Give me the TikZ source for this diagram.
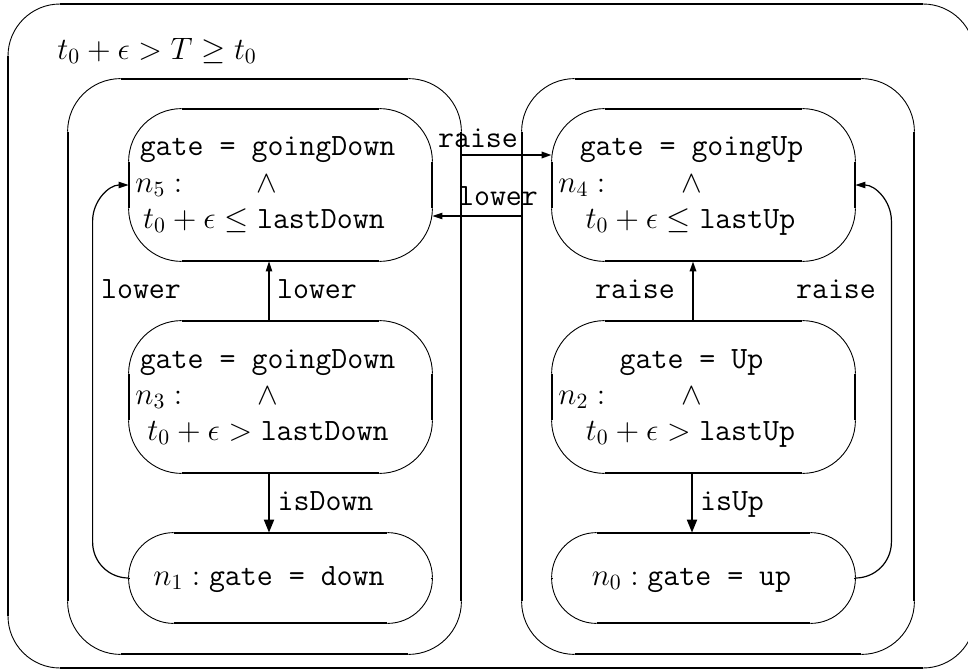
\RequirePackage{fix-cm}
\documentclass[tikz,border=0pt]{standalone}
\usetikzlibrary{arrows.meta,calc}

% One unit is one half point; y grows downwards.
\tikzset{
  statebox/.style={rectangle, inner sep=0pt, minimum width=151.5pt, minimum height=76pt},
  lowbox/.style={statebox, minimum height=45pt},
  groupbox/.style={rectangle, inner sep=0pt, minimum height=287.5pt},
  edgethick/.style={line width=1pt},
  edgethin/.style={line width=0.45pt},
  lbl/.style={inner sep=0pt, anchor=base, font=\fontsize{15.5pt}{18.5pt}\selectfont},
  smalltip/.style={-{Triangle[length=5pt,width=3.2pt]}},
  bigtip/.style={-{Triangle[length=6.5pt,width=5pt]}},
  heavyline/.style={line width=1pt},
  lightline/.style={line width=0.6pt},
}

% Rounded frame between two corners: thick straight sides, thin corner arcs.
\newcommand\drawframe[4][edgethick]{%
  \draw[#1] let \p1=(#2), \p2=(#3) in
    (\x1+#4,\y1) -- (\x2-#4,\y1)
    (\x1+#4,\y2) -- (\x2-#4,\y2)
    (\x1,\y1-#4) -- (\x1,\y2+#4)
    (\x2,\y1-#4) -- (\x2,\y2+#4);
  \draw[edgethin] let \p1=(#2), \p2=(#3) in
    (\x2-#4,\y1) arc[start angle=90,end angle=0,radius=#4]
    (\x2,\y2+#4) arc[start angle=0,end angle=-90,radius=#4]
    (\x1+#4,\y2) arc[start angle=270,end angle=180,radius=#4]
    (\x1,\y1-#4) arc[start angle=180,end angle=90,radius=#4];
}

\begin{document}
\begin{tikzpicture}[x=0.5pt,y=-0.5pt]
\useasboundingbox (0,0) rectangle (968,669);

% regions
\coordinate (outerNW) at (8,4);
\coordinate (outerSE) at (975,668);
\node[groupbox, minimum width=196.5pt] (downgrp) at (264.5,366.5) {};
\node[groupbox, minimum width=196pt] (upgrp) at (718,366.5) {};

% states
\node[statebox] (n5) at (280.5,185) {};
\node[statebox] (n3) at (280.5,397) {};
\node[lowbox]   (n1) at (280.5,578) {};
\node[statebox] (n4) at (703.5,185) {};
\node[statebox] (n2) at (703.5,397) {};
\node[lowbox]   (n0) at (703.5,578) {};

\drawframe[line width=0.8pt]{outerNW}{outerSE}{26pt}
\drawframe{downgrp.north west}{downgrp.south east}{26.5pt}
\drawframe{upgrp.north west}{upgrp.south east}{26.5pt}
\drawframe{n5.north west}{n5.south east}{26.5pt}
\drawframe{n3.north west}{n3.south east}{26.5pt}
\drawframe{n1.north west}{n1.south east}{22.5pt}
\drawframe{n4.north west}{n4.south east}{26.5pt}
\drawframe{n2.north west}{n2.south east}{26.5pt}
\drawframe{n0.north west}{n0.south east}{22.5pt}

% region label
\node[lbl, anchor=base west] (inv) at (57,59) {$t_0+\epsilon>T\geq t_0$};

% state texts
\node[lbl] (n5a) at (267.5,155) {\texttt{gate = goingDown}};
\node[lbl, anchor=base west] (n5id) at (135,192) {$n_5:$};
\node[lbl] (n5b) at (266.5,192) {$\wedge$};
\node[lbl] (n5c) at (264,228) {$t_0+\epsilon\leq\texttt{lastDown}$};

\node[lbl] (n3a) at (267.5,368) {\texttt{gate = goingDown}};
\node[lbl, anchor=base west] (n3id) at (135,404) {$n_3:$};
\node[lbl] (n3b) at (267.5,404) {$\wedge$};
\node[lbl] (n3c) at (268,440) {$t_0+\epsilon>\texttt{lastDown}$};

\node[lbl] (n1a) at (269,585) {$n_1:\texttt{gate = down}$};

\node[lbl] (n4a) at (691.5,155) {\texttt{gate = goingUp}};
\node[lbl, anchor=base west] (n4id) at (558,192) {$n_4:$};
\node[lbl] (n4b) at (691.5,192) {$\wedge$};
\node[lbl] (n4c) at (690.5,228) {$t_0+\epsilon\leq\texttt{lastUp}$};

\node[lbl] (n2a) at (691.5,368) {\texttt{gate = Up}};
\node[lbl, anchor=base west] (n2id) at (558,404) {$n_2:$};
\node[lbl] (n2b) at (691.5,404) {$\wedge$};
\node[lbl] (n2c) at (690.5,440) {$t_0+\epsilon>\texttt{lastUp}$};

\node[lbl] (n0a) at (691.5,585) {$n_0:\texttt{gate = up}$};

% transitions inside the lowering region
\draw[lightline, smalltip] ([xshift=-5.75pt]n3.north) -- ([xshift=-5.75pt]n5.south);
\draw[heavyline, bigtip] ([xshift=-5.75pt]n3.south) -- ([xshift=-5.75pt]n1.north);
\draw[lightline, smalltip] (n1.west) to[out=180,in=270] ([xshift=-18pt,yshift=18pt]n1.west)
  -- ([xshift=-18pt,yshift=-18pt]n5.west) to[out=90,in=180] (n5.west);

% transitions inside the raising region
\draw[heavyline, smalltip] ([xshift=-5.25pt]n2.north) -- ([xshift=-5.25pt]n4.south);
\draw[heavyline, bigtip] ([xshift=-5.75pt]n2.south) -- ([xshift=-5.75pt]n0.north);
\draw[lightline, smalltip] (n0.east) to[out=0,in=270] ([xshift=18pt,yshift=18pt]n0.east)
  -- ([xshift=18pt,yshift=-18pt]n4.east) to[out=90,in=0] (n4.east);

% transitions between the regions
\coordinate (raiseEnd) at ([yshift=15pt]n4.west);
\coordinate (lowerEnd) at ([yshift=-15.5pt]n5.east);
\draw[heavyline, smalltip] (downgrp.east |- raiseEnd) -- (raiseEnd);
\draw[lightline, smalltip] (upgrp.west |- lowerEnd) -- (lowerEnd);

% transition labels
\node[lbl] (lraise) at (478,147) {\texttt{raise}};
\node[lbl] (llower) at (498,205) {\texttt{lower}};
\node[lbl] (lloopd) at (141,298) {\texttt{lower}};
\node[lbl] (lmidd) at (317,298) {\texttt{lower}};
\node[lbl] (lmidu) at (635,298) {\texttt{raise}};
\node[lbl] (lloopu) at (836,298) {\texttt{raise}};
\node[lbl] (lisdown) at (325.5,510) {\texttt{isDown}};
\node[lbl] (lisup) at (732,510) {\texttt{isUp}};
\end{tikzpicture}
\end{document}
